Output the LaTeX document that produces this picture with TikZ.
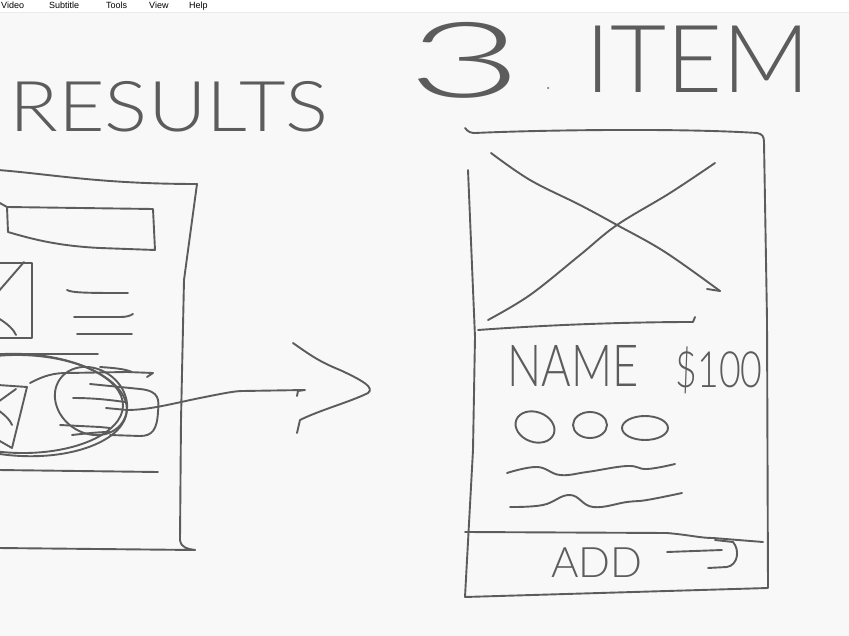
\documentclass[tikz,border=0pt]{standalone}
\usepackage{fontspec}
\setmainfont{Liberation Sans}
\newfontfamily\hand{Lato Light}
\definecolor{paper}{HTML}{F8F8F9}
\definecolor{ink}{HTML}{5C5C5C}
\tikzset{
  pen/.style={draw=ink, line width=1.9pt, line cap=round, line join=round},
  word/.style={text=ink, inner sep=0pt, anchor=center},
  menu/.style={text=black, inner sep=0pt, anchor=base west, font=\fontsize{9}{9}\selectfont}
}
\begin{document}
\begin{tikzpicture}[x=1pt, y=-1pt]
  \useasboundingbox (0,0) rectangle (849,636);
  \clip (0,0) rectangle (849,636);
  % window background and menu strip
  \fill[paper] (0,0) rectangle (849,636);
  \fill[white] (0,0) rectangle (849,12);
  \draw[black!8, line width=0.6pt] (0,12.3) -- (849,12.3);
  \node[menu] (mVideo) at (1,9) {Video};
  \node[menu] (mSub) at (49,9) {Subtitle};
  \node[menu] (mTools) at (106,9) {Tools};
  \node[menu] (mView) at (149,9) {View};
  \node[menu] (mHelp) at (189,9) {Help};

  % headings
  \node[word, font=\hand\fontsize{70}{70}\selectfont, xscale=1.15] (results) at (169,107) {RESULTS};
  \node[word, font=\hand\fontsize{105}{105}\selectfont, xscale=1.9] (three) at (465,60) {3};
  \node[word, font=\hand\fontsize{94}{94}\selectfont, xscale=1.03] (item) at (698,59) {ITEM};
  \fill[ink] (548,88) circle (1pt);

  % ---- results screen ----
  \draw[pen] (-2,170) .. controls (50,174) and (100,184) .. (197,184)
             -- (184,280) -- (181,420) -- (180,540)
             .. controls (181,548) and (188,549) .. (195,550);
  \draw[pen] (-2,548) -- (195,550);
  % search bar
  \draw[pen] (-2,202) -- (7,207);
  \draw[pen] (7,207) -- (153,209) -- (155,250) -- (100,248)
             .. controls (60,246) and (35,240) .. (8,232) -- cycle;
  % first result: picture and text lines
  \draw[pen] (-2,263) -- (32,263) -- (32,338) -- (-2,338);
  \draw[pen] (24,262) -- (-2,292);
  \draw[pen] (-2,318) .. controls (8,324) and (14,330) .. (16,335);
  \draw[pen] (67,290) .. controls (72,293) and (90,293) .. (128,293);
  \draw[pen] (74,317) -- (120,317) .. controls (126,317) and (130,316) .. (133,314);
  \draw[pen] (77,334) -- (132,334);
  % second result, circled
  \draw[pen] (-2,354) -- (98,354);
  \draw[pen, rotate around={-3:(22,405)}] (22,405) ellipse [x radius=105, y radius=51];
  \draw[pen, rotate around={-1:(20,404)}] (20,404) ellipse [x radius=103, y radius=49];
  \draw[pen] (-2,385) -- (27,387) -- (12,448) -- (-2,440);
  \draw[pen] (16,389) -- (-2,402);
  \draw[pen] (-2,410) .. controls (6,416) and (10,420) .. (12,425);
  \draw[pen] (30,383) .. controls (45,375) and (55,373) .. (67,373) -- (127,372) -- (153,373) -- (147,377);
  \draw[pen] (100,367) .. controls (115,368) and (125,369) .. (132,372);
  \draw[pen, rotate around={-35:(91,401)}] (91,401) ellipse [x radius=38, y radius=32];
  \draw[pen] (90,384) -- (140,389) .. controls (160,391) and (159,400) .. (158,412)
             .. controls (157,430) and (152,436) .. (140,436) -- (110,435);
  \draw[pen] (73,398) .. controls (95,398) and (110,400) .. (125,402);
  \draw[pen] (60,425) -- (100,427) -- (110,428);
  \draw[pen] (72,435) .. controls (90,433) and (100,432) .. (110,432);
  \draw[pen] (-2,470) -- (158,472);
  % pointer to the detail screen
  \coordinate (tail) at (106,408);
  \coordinate (tip) at (305,390);
  \draw[pen] (tail) -- (127,410) .. controls (150,410) and (175,403) .. (200,398)
             .. controls (225,393) and (235,391) .. (243,391) -- (tip) -- (298,391) -- (297,396);
  \draw[pen] (293,343) .. controls (310,355) and (320,362) .. (340,370)
             .. controls (366,382) and (374,388) .. (368,393)
             .. controls (350,402) and (320,410) .. (300,420) -- (297,433);

  % ---- item screen ----
  \draw[pen] (465,128) .. controls (468,132) and (471,133) .. (475,133)
             .. controls (540,130) and (680,128) .. (757,133)
             .. controls (762,134) and (764,136) .. (764,142)
             -- (767,320) -- (768,588) -- (465,597)
             -- (473,450) -- (475,337) -- (468,170);
  \draw[pen] (478,330) .. controls (560,324) and (640,322) .. (693,322) -- (695,317);
  % picture placeholder
  \draw[pen] plot[smooth, tension=0.6] coordinates {(491,153) (530,180) (580,205) (617,225) (665,252) (720,291)};
  \draw[pen] (720,291) -- (707,289);
  \draw[pen] plot[smooth, tension=0.6] coordinates {(488,320) (530,295) (580,255) (617,225) (670,193) (715,163)};
  % name, price, options, description
  \node[word, font=\hand\fontsize{58}{58}\selectfont, xscale=0.78] (name) at (573,366) {NAME};
  \node[word, font=\hand\fontsize{50}{50}\selectfont, xscale=0.75] (price) at (719,370) {\$100};
  \draw[pen, rotate around={-20:(535,427)}] (535,427) ellipse [x radius=20, y radius=15];
  \draw[pen] (590,425) ellipse [x radius=17, y radius=13];
  \draw[pen] (645,428) ellipse [x radius=23, y radius=12];
  \draw[pen] plot[smooth, tension=0.7] coordinates {(507,473) (537,467) (560,475) (587,472) (627,466) (647,469) (675,464)};
  \draw[pen] plot[smooth, tension=0.7] coordinates {(510,507) (543,505) (570,495) (593,507) (627,502) (647,500) (682,493)};
  % add button
  \draw[pen] (465,532) -- (667,533) .. controls (690,535) and (700,538) .. (713,538) -- (763,542);
  \draw[pen] (715,540) -- (733,542) .. controls (740,550) and (738,565) .. (727,567) -- (708,568);
  \draw[pen] (667,552) -- (722,550);
  \node[word, font=\hand\fontsize{42}{42}\selectfont] (add) at (597,563) {ADD};
\end{tikzpicture}
\end{document}
